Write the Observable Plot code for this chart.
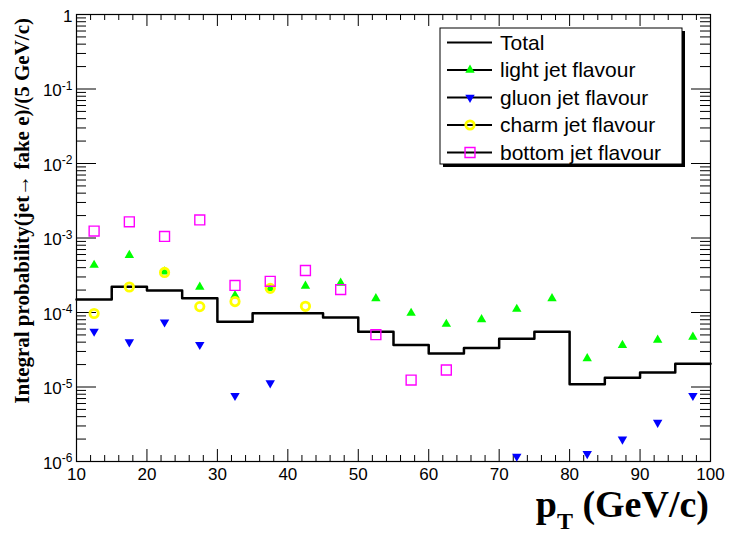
<!DOCTYPE html>
<html><head><meta charset="utf-8">
<script src="https://cdn.jsdelivr.net/npm/d3@7"></script>
<script src="https://cdn.jsdelivr.net/npm/@observablehq/plot@0.6"></script>
<style>
body{margin:0;background:#fff;}
#wrap{position:relative;width:729px;height:535px;}
</style></head><body><div id="wrap"></div>
<script>
// ---- data ----
const binEdges = [10,15,20,25,30,35,40,45,50,55,60,65,70,75,80,85,90,95,100];
const binCenters = [12.5,17.5,22.5,27.5,32.5,37.5,42.5,47.5,52.5,57.5,62.5,67.5,72.5,77.5,82.5,87.5,92.5,97.5];
const totalValues = [1.49e-4,2.22e-4,1.97e-4,1.55e-4,7.5e-5,9.8e-5,9.8e-5,8.6e-5,5.5e-5,3.66e-5,2.81e-5,3.34e-5,4.46e-5,5.5e-5,1.09e-5,1.33e-5,1.57e-5,2.05e-5];
const lightValues = [4.33e-4,5.88e-4,3.52e-4,2.2e-4,1.69e-4,2.11e-4,2.27e-4,2.49e-4,1.54e-4,9.8e-5,6.98e-5,8.07e-5,1.11e-4,1.54e-4,2.41e-5,3.63e-5,4.27e-5,4.69e-5];
const gluonValues = [5.58e-5,4.02e-5,7.43e-5,3.7e-5,7.66e-6,1.13e-5,null,null,null,null,null,null,1.17e-6,null,1.27e-6,1.99e-6,3.34e-6,7.66e-6];
const charmValues = [9.7e-5,2.2e-4,3.45e-4,1.2e-4,1.4e-4,2.11e-4,1.21e-4,null,null,null,null,null,null,null,null,null,null,null];
const bottomValues = [1.24e-3,1.65e-3,1.05e-3,1.75e-3,2.31e-4,2.62e-4,3.66e-4,2.03e-4,5.04e-5,1.24e-5,1.69e-5,null,null,null,null,null,null,null];
const yMajorTicks = [1e-6,1e-5,1e-4,1e-3,1e-2,1e-1,1];
const yMinorTicks = [];
for (let e = -6; e < 0; e++) for (let k = 2; k <= 9; k++) yMinorTicks.push(k * Math.pow(10, e));
const xMajorTicks = [10,20,30,40,50,60,70,80,90,100];
const xMinorTicks = [12,14,16,18,22,24,26,28,32,34,36,38,42,44,46,48,52,54,56,58,62,64,66,68,72,74,76,78,82,84,86,88,92,94,96,98];
const legendLabels = ["Total","light jet flavour","gluon jet flavour","charm jet flavour","bottom jet flavour"];

// ---- tables ----
const stepData = binEdges.map((x, i) => ({x, y: totalValues[Math.min(i, totalValues.length - 1)]}));
const pts = vals => binCenters.map((x, i) => ({x, y: vals[i]})).filter(d => d.y != null);

const triDown = {
  draw(ctx, size) {
    const a = Math.sqrt(4 * size / Math.sqrt(3));
    const h = a * Math.sqrt(3) / 2;
    ctx.moveTo(0, 2 * h / 3);
    ctx.lineTo(-a / 2, -h / 3);
    ctx.lineTo(a / 2, -h / 3);
    ctx.closePath();
  }
};

const W = 729, H = 535, mT = 14, mR = 19, mB = 74, mL = 76;
const iW = W - mL - mR, iH = H - mT - mB;

const chart = Plot.plot({
  width: W, height: H,
  marginTop: mT, marginRight: mR, marginBottom: mB, marginLeft: mL,
  style: {fontFamily: "'Liberation Sans', Arial, sans-serif", background: "white", color: "black"},
  x: {type: "linear", domain: [10, 100]},
  y: {type: "log", domain: [1e-6, 1]},
  marks: [
    Plot.frame({stroke: "black", strokeWidth: 1.2}),
    Plot.tickY(yMajorTicks, {y: d => d, insetRight: iW - 20, stroke: "black"}),
    Plot.tickY(yMinorTicks, {y: d => d, insetRight: iW - 10, stroke: "black"}),
    Plot.tickY(yMajorTicks, {y: d => d, insetLeft: iW - 19, stroke: "black"}),
    Plot.tickY(yMinorTicks, {y: d => d, insetLeft: iW - 10, stroke: "black"}),
    Plot.tickX(xMajorTicks, {x: d => d, insetTop: iH - 12, stroke: "black"}),
    Plot.tickX(xMinorTicks, {x: d => d, insetTop: iH - 6, stroke: "black"}),
    Plot.tickX(xMajorTicks, {x: d => d, insetBottom: iH - 12, stroke: "black"}),
    Plot.tickX(xMinorTicks, {x: d => d, insetBottom: iH - 6, stroke: "black"}),
    Plot.axisX(xMajorTicks, {tickSize: 0, tickPadding: 6, fontSize: 17, label: null, tickFormat: d => String(d)}),
    Plot.axisY(yMajorTicks, {tickSize: 0, tickPadding: 20, fontSize: 17, label: null, dy: 2,
      tickFormat: d => d === 1 ? "1" : "E" + Math.round(Math.log10(d))}),
    Plot.line(stepData, {x: "x", y: "y", curve: "step-after", stroke: "black", strokeWidth: 2.5}),
    Plot.dot(pts(lightValues), {x: "x", y: "y", symbol: "triangle", r: 3.5, fill: "#00ff00", stroke: "none"}),
    Plot.dot(pts(gluonValues), {x: "x", y: "y", symbol: triDown, r: 3.5, fill: "#0000ff", stroke: "none"}),
    Plot.dot(pts(charmValues), {x: "x", y: "y", symbol: "circle", r: 4.2, fill: "none", stroke: "#ffff00", strokeWidth: 2.8}),
    Plot.dot(pts(bottomValues), {x: "x", y: "y", symbol: "square", r: 5.6, fill: "none", stroke: "#ff00ff", strokeWidth: 1.4})
  ]
});

document.getElementById("wrap").appendChild(chart);
const svg = d3.select(chart);

// superscript exponents on y labels
svg.selectAll("[aria-label='y-axis tick label'] text").each(function() {
  const t = d3.select(this);
  const s = t.text();
  if (s.startsWith("E")) {
    const exp = s.slice(1);
    t.text("10");
    t.append("tspan").attr("dy", "-0.55em").attr("font-size", 12).text(exp);
  }
  t.attr("transform", (t.attr("transform") || "") + " translate(16,0)");
});

// axis titles
const serif = "'Liberation Serif', 'Times New Roman', serif";
const xt = svg.append("text")
  .attr("x", 709).attr("y", 517)
  .attr("text-anchor", "end")
  .attr("font-family", serif).attr("font-weight", "bold").attr("font-size", 38)
  .attr("fill", "black");
xt.append("tspan").text("p");
xt.append("tspan").attr("dy", 12).attr("font-size", 24).text("T");
xt.append("tspan").attr("dy", -12).text(" (GeV/c)");

svg.append("text")
  .attr("transform", "translate(29,18) rotate(-90)")
  .attr("text-anchor", "end")
  .attr("font-family", serif).attr("font-weight", "bold").attr("font-size", 21)
  .attr("fill", "black")
  .text("Integral probability(jet\u2192 fake e)/(5 GeV/c)");

// legend
const lg = svg.append("g").attr("aria-label", "legend").attr("text-anchor", "start");
const bx = 440, by = 28, bw = 242, bh = 136;
lg.append("rect").attr("x", bx + 3).attr("y", by + 3).attr("width", bw).attr("height", bh).attr("fill", "black");
lg.append("rect").attr("x", bx).attr("y", by).attr("width", bw).attr("height", bh).attr("fill", "white").attr("stroke", "black").attr("stroke-width", 1);
const legendSym = [
  null,
  {type: d3.symbolTriangle, r: 3.5, fill: "#00ff00", stroke: "none", sw: 0},
  {type: triDown, r: 3.5, fill: "#0000ff", stroke: "none", sw: 0},
  {type: d3.symbolCircle, r: 4.2, fill: "none", stroke: "#ffff00", sw: 2.8},
  {type: d3.symbolSquare, r: 5.6, fill: "none", stroke: "#ff00ff", sw: 1.4}
];
legendLabels.forEach((lab, i) => {
  const yy = 42.5 + i * 27.5;
  lg.append("line").attr("x1", 447).attr("x2", 492).attr("y1", yy).attr("y2", yy).attr("stroke", "black").attr("stroke-width", 2);
  const s = legendSym[i];
  if (s) {
    lg.append("path").attr("transform", `translate(470,${yy})`)
      .attr("d", d3.symbol(s.type, Math.PI * s.r * s.r)())
      .attr("fill", s.fill).attr("stroke", s.stroke).attr("stroke-width", s.sw);
  }
  lg.append("text").attr("x", 500).attr("y", yy).attr("dy", "0.35em")
    .attr("text-anchor", "start")
    .attr("font-family", "'Liberation Sans', Arial, sans-serif").attr("font-size", 21)
    .attr("fill", "black").text(lab);
});
</script></body></html>
